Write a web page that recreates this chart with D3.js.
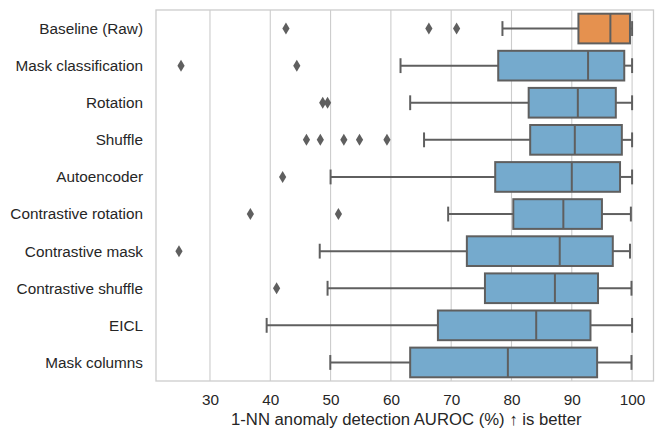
<!DOCTYPE html>
<html>
<head>
<meta charset="utf-8">
<script src="https://cdn.jsdelivr.net/npm/d3@7/dist/d3.min.js"></script>
<style>
  html, body { margin: 0; padding: 0; background: #fff; }
  svg text { font-family: "Liberation Sans", Arial, Helvetica, sans-serif; fill: #262626; }
</style>
</head>
<body>
<svg id="chart" width="665" height="440"></svg>
<script>
const categories = ["Baseline (Raw)", "Mask classification", "Rotation", "Shuffle", "Autoencoder",
  "Contrastive rotation", "Contrastive mask", "Contrastive shuffle", "EICL", "Mask columns"];
const whiskerLow  = [78.5, 61.6, 63.2, 65.5, 50.0, 69.5, 48.2, 49.5, 39.4, 49.95];
const q1          = [91.1, 77.8, 82.85, 83.1, 77.3, 80.3, 72.6, 75.6, 67.8, 63.2];
const median      = [96.4, 92.7, 91.0, 90.5, 90.0, 88.6, 88.0, 87.2, 84.1, 79.4];
const q3          = [99.65, 98.7, 97.3, 98.3, 98.0, 95.0, 96.8, 94.35, 93.1, 94.2];
const whiskerHigh = [100, 100, 100, 100, 100, 99.8, 99.65, 99.9, 100, 99.9];
const outliers = [
  [42.6, 66.3, 70.9],
  [25.2, 44.4],
  [48.7, 49.5],
  [46.0, 48.3, 52.2, 54.8, 59.35],
  [42.05],
  [36.7, 51.3],
  [24.86],
  [41.05],
  [],
  []
];
const boxColors = ["#e5914f", "#75aacd", "#75aacd", "#75aacd", "#75aacd", "#75aacd", "#75aacd", "#75aacd", "#75aacd", "#75aacd"];
const xTicks = [30, 40, 50, 60, 70, 80, 90, 100];
const xLabel = "1-NN anomaly detection AUROC (%) \u2191 is better";

const svg = d3.select("#chart");
const mLeft = 156, mRight = 653.5, mTop = 10, mBottom = 381;
const x = d3.scaleLinear().domain([21.05, 103.55]).range([mLeft, mRight]);
const y = d3.scaleBand().domain(categories).range([mTop, mBottom]).padding(0);
const lineCol = "#5f5f5f";
const lw = 2;
const fontFam = '"Liberation Sans", Arial, sans-serif';

// grid
svg.append("g").selectAll("line").data(xTicks).join("line")
  .attr("x1", d => x(d)).attr("x2", d => x(d))
  .attr("y1", mTop).attr("y2", mBottom)
  .attr("stroke", "#cccccc").attr("stroke-width", 1.1);

// frame
svg.append("rect").attr("x", mLeft).attr("y", mTop)
  .attr("width", mRight - mLeft).attr("height", mBottom - mTop)
  .attr("fill", "none").attr("stroke", "#cccccc").attr("stroke-width", 1.3);

// x axis
const xAxis = d3.axisBottom(x).tickValues(xTicks).tickSize(0).tickPadding(0);
const gx = svg.append("g").attr("transform", `translate(0,${mBottom})`).call(xAxis);
gx.select(".domain").remove();
gx.selectAll("text").attr("font-size", 15.3).attr("dy", null).attr("y", 24)
  .style("font-family", fontFam).attr("fill", "#262626");

// y axis
const yAxis = d3.axisLeft(y).tickSize(0).tickPadding(0);
const gy = svg.append("g").attr("transform", `translate(${mLeft},0)`).call(yAxis);
gy.select(".domain").remove();
gy.selectAll("text").attr("font-size", 15.3).attr("x", -13).attr("dy", "0.35em")
  .style("font-family", fontFam).attr("fill", "#262626");

// axis title (fitted to reference width)
const title = svg.append("text").attr("x", 231).attr("y", 425)
  .attr("font-size", 15.5).style("font-family", fontFam).text(xLabel);
const len = title.node().getComputedTextLength();
title.attr("font-size", 15.5 * 351 / len);

// boxes
const bw = y.bandwidth() * 0.8;
const g = svg.append("g");
categories.forEach((c, i) => {
  const cy = y(c) + y.bandwidth() / 2;
  const gg = g.append("g");
  gg.append("line").attr("x1", x(whiskerLow[i])).attr("x2", x(q1[i]))
    .attr("y1", cy).attr("y2", cy).attr("stroke", lineCol).attr("stroke-width", lw);
  gg.append("line").attr("x1", x(q3[i])).attr("x2", x(whiskerHigh[i]))
    .attr("y1", cy).attr("y2", cy).attr("stroke", lineCol).attr("stroke-width", lw);
  [whiskerLow[i], whiskerHigh[i]].forEach(v => {
    gg.append("line").attr("x1", x(v)).attr("x2", x(v))
      .attr("y1", cy - bw / 4).attr("y2", cy + bw / 4)
      .attr("stroke", lineCol).attr("stroke-width", lw);
  });
  gg.append("rect").attr("x", x(q1[i])).attr("y", cy - bw / 2)
    .attr("width", x(q3[i]) - x(q1[i])).attr("height", bw)
    .attr("fill", boxColors[i]).attr("stroke", lineCol).attr("stroke-width", lw);
  gg.append("line").attr("x1", x(median[i])).attr("x2", x(median[i]))
    .attr("y1", cy - bw / 2).attr("y2", cy + bw / 2)
    .attr("stroke", lineCol).attr("stroke-width", lw);
  gg.selectAll("path.out").data(outliers[i]).join("path")
    .attr("class", "out")
    .attr("transform", d => `translate(${x(d)},${cy})`)
    .attr("d", "M0,-6 L3.6,0 L0,6 L-3.6,0 Z")
    .attr("fill", lineCol);
});
</script>
</body>
</html>
